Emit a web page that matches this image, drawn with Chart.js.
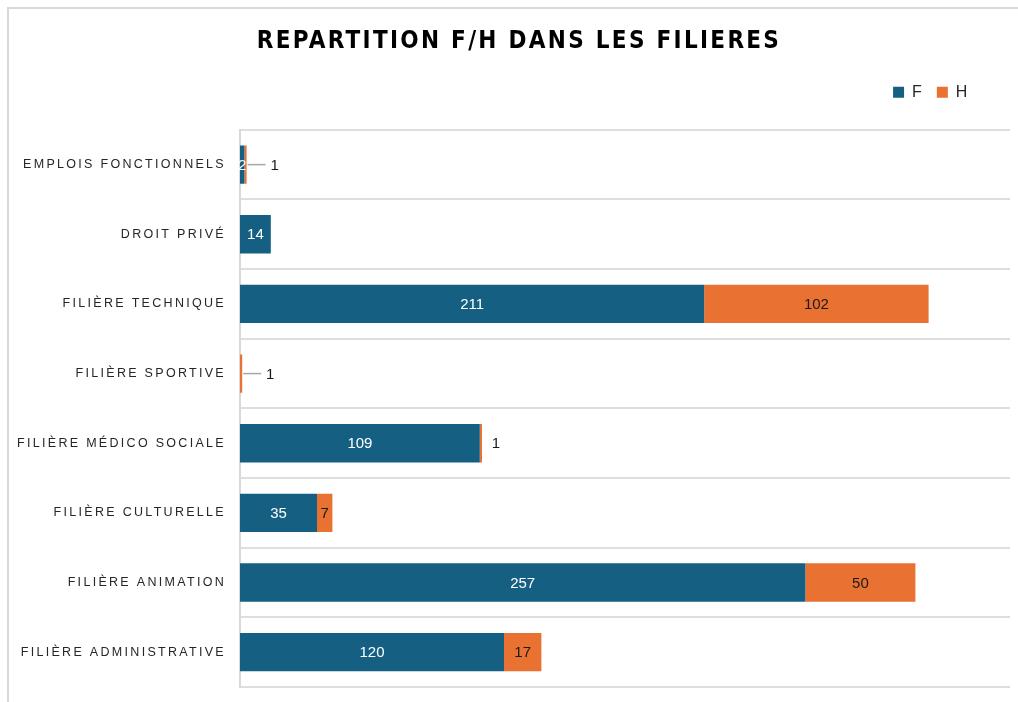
<!DOCTYPE html>
<html>
<head>
<meta charset="utf-8">
<script src="https://cdn.jsdelivr.net/npm/chart.js@4.4.1/dist/chart.umd.min.js"></script>
<style>
  html, body { margin: 0; padding: 0; background: #fff; }
  #wrap { position: absolute; left: 0; top: 0; width: 1018px; height: 702px; }
  #frame { position: absolute; left: 7px; top: 7px; width: 1011px; height: 695px;
           border-left: 2px solid #d9d9d9; border-top: 2px solid #d9d9d9; box-sizing: border-box; }
</style>
</head>
<body>
<div id="wrap">
  <canvas id="chart" width="1018" height="702"></canvas>
  <div id="frame"></div>
</div>
<script>
// categories, top to bottom
const filieres = [
  "EMPLOIS FONCTIONNELS",
  "DROIT PRIVÉ",
  "FILIÈRE TECHNIQUE",
  "FILIÈRE SPORTIVE",
  "FILIÈRE MÉDICO SOCIALE",
  "FILIÈRE CULTURELLE",
  "FILIÈRE ANIMATION",
  "FILIÈRE ADMINISTRATIVE",
];
const femmes = [2, 14, 211, 0, 109, 35, 257, 120];
const hommes = [1, 0, 102, 1, 1, 7, 50, 17];

const BLUE = "#156082";
const ORANGE = "#E97132";

// letter spacing only on the title and the category labels
const spacing = {
  id: "spacing",
  beforeDraw(chart) {
    const ctx = chart.ctx;
    const wrap = (obj, name, px) => {
      if (obj["_sp_" + name]) return;
      const orig = obj[name];
      obj[name] = function (...args) {
        ctx.save();
        ctx.letterSpacing = px;
        orig.apply(this, args);
        ctx.restore();
      };
      obj["_sp_" + name] = true;
    };
    wrap(chart.titleBlock, "draw", "2.3px");
    wrap(chart.scales.y, "drawLabels", "2.3px");
  },
};

// nudge legend (left + up) and title centre
const nudge = {
  id: "nudge",
  afterLayout(chart) {
    const lg = chart.legend;
    lg.lineWidths[0] += 27.6;
    lg.top -= 19.5;
    lg.bottom -= 19.5;
    chart.titleBlock.left += 20;
  },
};

// value labels (no datalabels plugin available)
const valueLabels = {
  id: "valueLabels",
  afterDatasetsDraw(chart) {
    const ctx = chart.ctx;
    const zero = chart.scales.x.getPixelForValue(0);
    ctx.save();
    ctx.font = '15px "Liberation Sans", Arial, sans-serif';
    ctx.textBaseline = "middle";
    ctx.textAlign = "center";
    chart.data.datasets.forEach((ds, di) => {
      chart.getDatasetMeta(di).data.forEach((bar, i) => {
        const v = ds.data[i];
        if (!v) return;
        const left = Math.min(bar.x, bar.base);
        const right = Math.max(bar.x, bar.base);
        const txt = String(v);
        const tw = ctx.measureText(txt).width;
        if (di === 0 || right - left >= tw + 2) {
          ctx.fillStyle = di === 0 ? "#ffffff" : "#1a1a1a";
          ctx.fillText(txt, (left + right) / 2, bar.y + 1);
        } else if (right - zero < 20) {
          // tiny stack: label further out with a leader line
          ctx.strokeStyle = "#a6a6a6";
          ctx.lineWidth = 1.5;
          ctx.beginPath();
          ctx.moveTo(right + 1, bar.y);
          ctx.lineTo(right + 19, bar.y);
          ctx.stroke();
          ctx.fillStyle = "#1a1a1a";
          ctx.fillText(txt, right + 28, bar.y + 1);
        } else {
          ctx.fillStyle = "#1a1a1a";
          ctx.fillText(txt, right + 14, bar.y + 1);
        }
      });
    });
    ctx.restore();
  },
};

new Chart(document.getElementById("chart").getContext("2d"), {
  type: "bar",
  data: {
    labels: filieres,
    datasets: [
      { label: "F", data: femmes, backgroundColor: BLUE },
      { label: "H", data: hommes, backgroundColor: ORANGE },
    ],
  },
  options: {
    indexAxis: "y",
    responsive: false,
    animation: false,
    categoryPercentage: 1,
    barPercentage: 0.55,
    layout: { padding: { left: 8, right: 8, top: 0, bottom: 15 } },
    scales: {
      x: {
        stacked: true,
        display: false,
        min: 0,
        max: 350,
      },
      y: {
        stacked: true,
        afterFit(scale) {
          scale.width = 232;
          scale.paddingTop = 0;
          scale.paddingBottom = 0;
        },
        border: { display: true, color: "#d9d9d9", width: 2 },
        grid: { color: "#dedede", lineWidth: 2, drawTicks: false },
        ticks: {
          padding: 14,
          color: "#262626",
          font: { family: '"Liberation Sans", Arial, sans-serif', size: 12.5 },
        },
      },
    },
    plugins: {
      title: {
        display: true,
        text: "REPARTITION F/H DANS LES FILIERES",
        color: "#000000",
        font: { family: '"Liberation Sans Narrow", "DejaVu Sans Condensed", sans-serif', size: 24, weight: "bold" },
        padding: { top: 27, bottom: 33 },
      },
      legend: {
        position: "top",
        align: "end",
        labels: {
          boxWidth: 11,
          boxHeight: 11,
          padding: 15,
          color: "#262626",
          font: { family: '"Liberation Sans", Arial, sans-serif', size: 16 },
        },
      },
      tooltip: { enabled: false },
    },
  },
  plugins: [spacing, nudge, valueLabels],
});
</script>
</body>
</html>
